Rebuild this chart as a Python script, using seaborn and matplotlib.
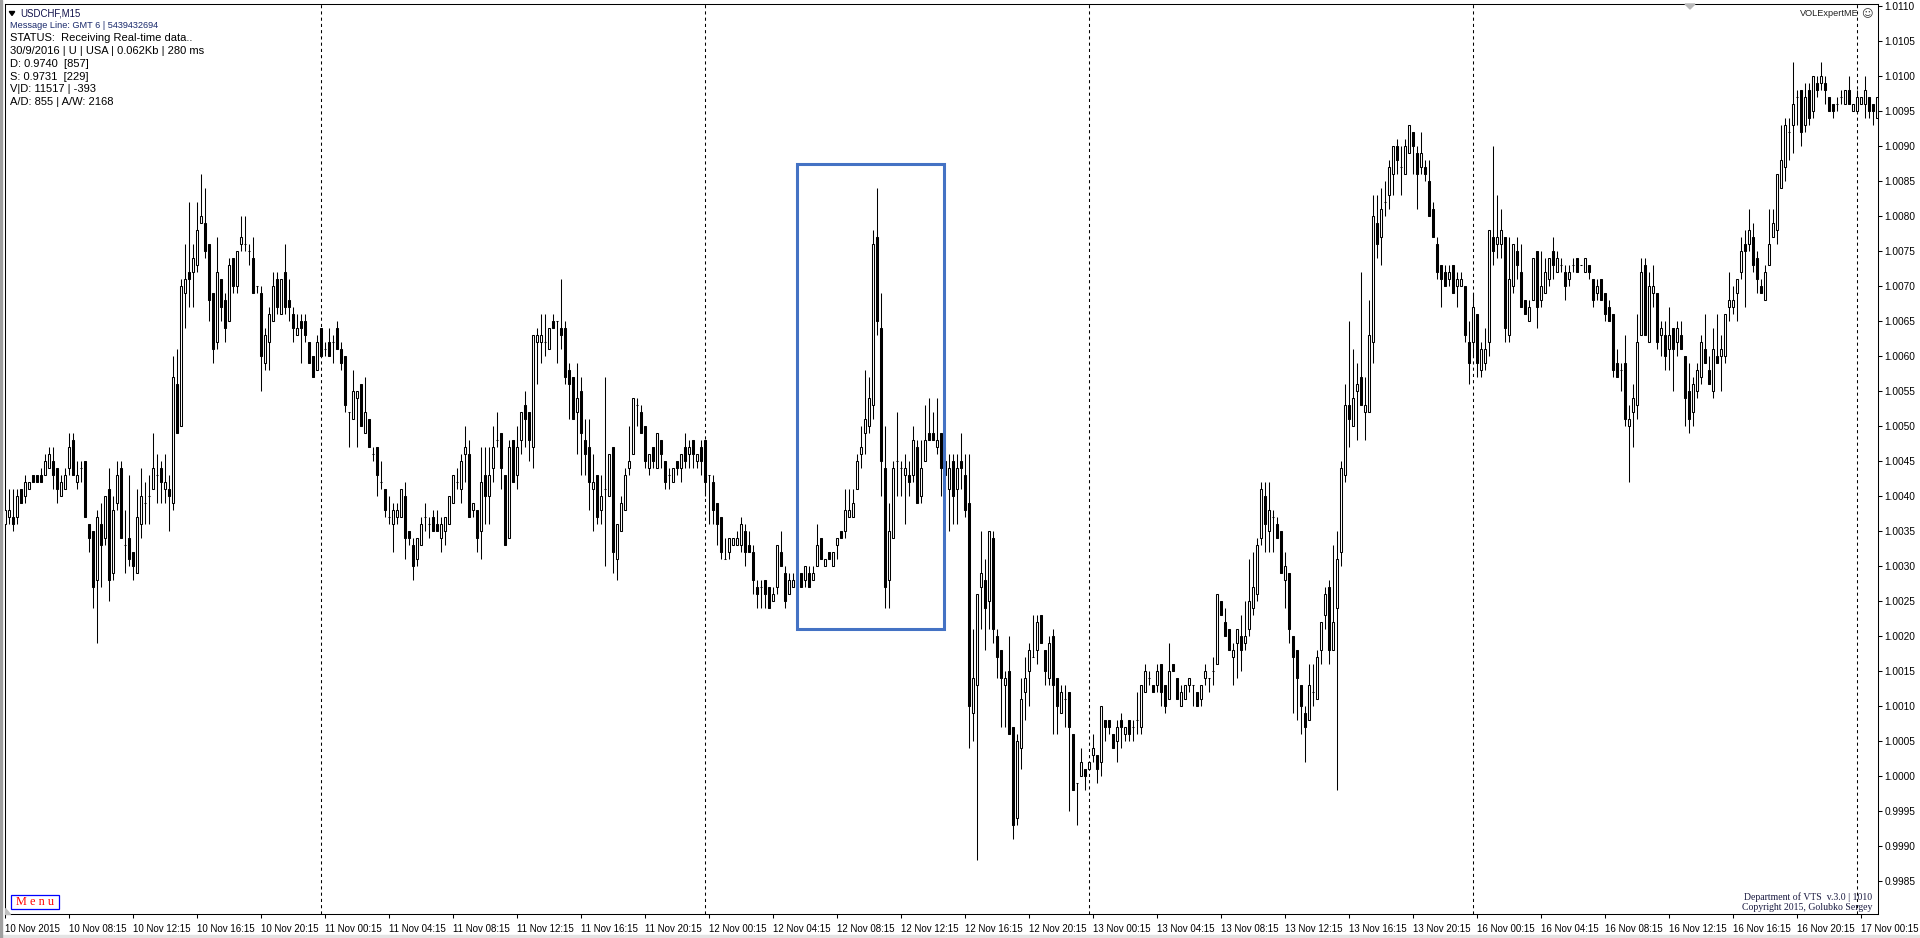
import numpy as np
import pandas as pd
import seaborn as sns
import matplotlib.pyplot as plt
from matplotlib.patches import Rectangle, Polygon

W, H = 1920, 938

# USDCHF M15 candles, pips above 0.9900 -> (open, high, low, close)
nov10 = [
    (136,138,136,138), (137,141,136,138), (137,141,135,136), (137,141,136,140), (141,141,139,139),
    (140,143,139,142), (141,142,141,142), (143,143,142,142), (143,143,142,142), (143,144,142,142),
    (143,146,143,145), (144,147,144,146), (145,147,141,143), (144,144,139,141), (140,143,140,142),
    (141,144,141,143), (144,149,143,147), (148,149,143,143), (142,145,141,143), (144,145,142,144),
    (145,145,137,137), (136,136,132,134), (135,135,124,127), (128,138,119,137), (136,139,127,133),
    (134,140,133,140), (141,144,125,128), (129,140,128,138), (139,145,138,143), (144,145,134,134),
    (133,138,129,133), (134,143,130,131), (132,132,128,130), (129,141,129,137), (136,144,134,140),
    (139,142,136,139), (140,143,136,140), (141,149,141,144), (143,146,139,143), (144,145,139,142),
    (141,146,139,142), (141,143,135,140), (139,160,138,157), (156,161,149,149), (150,171,150,170),
    (169,176,164,171), (172,182,167,171), (172,176,167,174), (173,182,172,178), (179,186,179,180),
    (179,184,174,175), (176,176,165,168), (169,169,159,161), (162,177,161,172), (171,171,165,167),
    (168,169,162,164), (165,174,165,173), (174,174,169,170), (170,175,169,175), (176,180,175,177),
    (176,180,175,176), (175,176,173,175), (174,177,169,169), (170,170,169,170), (169,170,155,160),
    (159,164,158,163), (162,167,158,166), (165,172,165,170), (171,172,166,167), (166,171,166,171),
    (172,176,166,167), (168,171,165,167), (166,167,162,164), (163,166,163,164), (165,166,159,164),
    (165,166,162,163), (162,162,159,159), (160,160,157,157), (158,163,158,162),
]
nov11 = [
    (164,164,160,160), (161,162,160,161), (162,164,160,160), (162,163,159,162), (164,165,161,161),
    (161,162,158,159), (160,160,152,153), (152,152,147,152), (151,158,151,155), (154,155,147,155),
    (156,156,150,150), (149,157,149,152), (151,151,147,147), (146,147,145,146), (147,147,140,143),
    (142,145,141,142), (141,141,137,138), (137,140,136,137), (136,139,132,138), (137,139,136,138),
    (137,141,137,141), (140,142,131,134), (135,135,133,134), (133,134,128,130), (131,134,130,134),
    (133,137,133,136), (137,139,135,137), (136,137,134,136), (137,138,135,135), (136,138,135,135),
    (134,137,132,136), (135,137,133,137), (136,140,136,140), (139,143,139,143), (142,144,141,142),
    (141,146,139,145), (146,150,142,147), (146,148,137,137), (138,139,137,139), (138,138,132,134),
    (135,147,131,142), (143,147,136,140), (140,147,136,143), (144,150,142,147), (148,152,147,148),
    (149,149,141,144), (143,143,133,133), (134,148,134,147), (148,148,142,142), (143,150,141,147),
    (148,152,146,152), (153,155,147,151), (152,152,145,148), (147,163,144,163), (162,164,156,163),
    (162,166,159,163), (162,166,160,162), (161,164,161,164), (165,166,164,164), (165,165,159,165),
    (164,171,161,163), (164,165,156,157), (158,159,151,156), (157,157,151,151), (152,159,146,154),
    (155,157,143,149), (148,151,143,146), (147,151,138,142), (141,146,135,142), (143,143,136,137),
    (138,143,136,140), (141,157,130,141), (140,146,140,146), (147,147,129,132), (131,136,128,136),
    (135,140,135,139), (138,144,138,143), (144,150,143,145), (146,154,146,154), (153,154,150,153),
    (152,153,149,149), (150,150,144,145), (144,146,143,146), (147,147,144,145), (144,149,144,149),
    (148,148,144,146), (145,145,141,142), (143,144,141,143), (142,144,142,144), (145,145,143,144),
    (144,146,142,146), (147,149,144,145), (146,148,144,147), (148,148,144,146), (145,146,144,146),
    (147,148,143,145),
]
nov12 = [
    (148,148,140,142), (143,143,136,143), (142,143,136,138), (139,139,133,136), (137,137,131,132),
    (131,134,131,131), (132,134,131,134), (133,134,133,134), (133,135,133,134), (133,137,132,136),
    (135,136,130,132), (133,135,132,132), (132,133,126,128), (127,128,124,126), (127,128,124,127),
    (128,128,124,126), (127,127,124,124), (125,127,125,126), (127,133,126,133), (132,135,130,130),
    (129,130,124,125), (126,129,126,128), (127,129,127,128), (127,129,126,128), (129,129,127,127),
    (128,130,127,130), (129,130,127,127), (128,130,128,129), (130,136,130,133), (134,134,131,131),
    (130,131,130,131), (132,132,131,131), (130,132,130,132), (133,134,131,134), (135,135,134,134),
    (135,141,134,138), (137,141,137,138), (137,141,137,139), (141,146,141,145), (146,150,144,147),
    (149,158,146,151), (150,157,149,154), (153,178,151,176), (177,184,163,165), (164,169,140,145),
    (144,150,124,127), (128,139,124,135), (134,145,134,144), (145,152,140,145), (144,145,140,144),
    (143,146,136,144), (143,145,140,142), (143,150,142,148), (147,148,139,139), (140,148,139,144),
    (145,153,145,148), (149,154,148,148), (149,152,148,148), (147,154,146,148), (149,149,140,144),
    (145,147,141,143), (141,146,135,144), (145,146,136,140), (141,146,136,144), (145,149,141,144),
    (143,146,137,138), (139,146,104,110), (109,121,105,114), (113,126,88,126), (127,135,121,129),
    (128,131,118,124), (125,135,121,135), (134,135,119,121), (120,121,114,117), (118,118,107,114),
    (113,115,107,114), (115,120,106,106), (107,107,91,93), (94,106,93,105), (104,114,101,111),
    (112,117,108,114), (115,119,110,118), (117,123,117,117), (118,123,116,122), (123,123,119,119),
    (118,118,113,115), (114,120,113,119), (120,121,106,113), (114,114,106,110), (109,113,109,112),
    (111,113,107,111), (112,112,95,107), (106,106,98,98), (99,99,93,99), (100,104,100,102),
    (101,101,98,100),
]
nov13 = [
    (101,102,101,102), (103,106,102,104), (103,103,99,101), (102,110,100,110), (108,108,105,107),
    (108,108,106,107), (106,106,104,104), (105,108,102,107), (108,109,104,107), (106,107,105,107),
    (108,108,105,106), (107,108,105,107), (108,112,106,108), (107,113,106,113), (112,116,112,115),
    (114,115,113,114), (113,113,112,112), (113,116,112,115), (116,116,110,112), (113,113,109,110),
    (111,119,111,115), (116,116,115,115), (114,114,111,111), (110,113,110,112), (111,113,111,113),
    (113,114,112,114), (113,113,110,113), (112,112,110,110), (111,113,110,113), (114,116,113,115),
    (114,114,112,114), (115,117,113,115), (116,126,116,126), (125,125,123,123), (122,124,120,120),
    (121,121,118,118), (117,119,113,118), (119,121,114,121), (120,123,115,118), (119,125,118,120),
    (121,131,120,125), (124,132,123,127), (126,134,125,133), (134,142,133,141), (140,142,132,136),
    (135,142,132,138), (137,138,132,137), (136,137,134,134), (135,135,129,129), (128,132,124,130),
    (129,129,119,121), (120,120,109,117), (118,118,108,114), (113,113,106,110), (109,110,102,107),
    (108,116,108,113), (112,116,110,112), (111,118,111,117), (118,122,116,122), (123,127,121,126),
    (127,128,116,118), (118,133,118,122), (124,135,98,131), (132,145,130,144), (143,156,142,153),
    (153,165,147,151), (150,161,150,154), (155,159,148,156), (157,172,153,153), (152,157,148,153),
    (152,168,152,163), (162,183,159,180), (179,183,174,176), (177,184,173,181), (182,185,180,182),
    (183,188,181,187), (186,190,183,190), (190,191,186,188), (187,190,183,187), (186,191,186,190),
    (189,193,189,193), (192,192,186,190), (189,190,181,186), (187,192,186,189), (187,188,185,186),
    (185,188,180,180), (181,182,177,177), (176,177,171,172), (173,173,167,171), (172,173,170,170),
    (171,173,170,172), (173,173,169,169), (170,172,167,171), (170,172,170,171), (170,170,162,163),
    (162,165,156,159),
]
nov16 = [
    (162,169,160,167), (166,166,157,159), (158,162,157,161), (159,164,158,161), (162,178,160,178),
    (177,190,173,175), (176,183,174,177), (176,181,174,178), (177,177,162,164), (163,177,162,171),
    (170,176,169,176), (175,177,171,173), (172,176,167,167), (168,168,166,166), (165,168,165,167),
    (168,174,168,174), (175,175,164,167), (168,175,167,170), (169,174,169,172), (171,174,170,174),
    (175,177,171,173), (172,175,172,174), (173,174,172,173), (172,173,168,170), (171,173,170,172),
    (173,174,172,173), (174,174,172,172), (173,173,173,173), (172,174,172,174), (173,173,171,172),
    (171,171,167,168), (169,171,168,170), (171,171,168,168), (169,169,165,166), (167,168,165,165),
    (166,166,157,158), (159,161,157,157), (158,159,155,158), (159,163,150,151), (150,153,142,151),
    (152,156,147,154), (153,166,151,162), (163,174,163,172), (173,174,163,163), (162,172,162,170),
    (169,173,167,170), (169,169,161,162), (163,165,160,164), (163,165,158,160), (161,167,158,163),
    (164,164,155,161), (162,165,160,164), (163,165,161,161), (160,160,150,154), (155,159,149,151),
    (152,157,150,156), (155,159,154,158), (157,163,156,162), (161,166,159,159), (158,160,156,156),
    (155,164,154,161), (160,166,159,159), (160,163,155,161), (160,166,159,166), (167,172,165,168),
    (167,170,166,168), (169,171,165,171), (172,177,171,175), (176,178,167,175), (176,181,175,178),
    (177,179,172,173), (174,175,169,171), (170,171,169,169), (168,173,168,172), (173,181,173,176),
    (177,181,177,179), (178,186,176,186), (184,193,184,188), (187,194,185,193), (192,194,188,192),
    (193,202,189,196), (197,198,193,197), (198,198,190,192), (193,199,192,197), (198,199,193,194),
    (195,200,194,200), (199,200,197,198), (199,202,198,200), (199,200,196,198), (197,197,195,195),
    (196,196,194,195), (196,197,195,196), (197,198,196,197), (196,198,196,198), (198,200,196,196),
    (195,196,195,196),
]
nov17 = [
    (195,198,195,197), (196,197,196,197), (196,200,194,198), (197,197,194,195), (196,196,193,195),
    (194,197,194,197),
]

tick_labels = [
    "10 Nov 2015", "10 Nov 08:15", "10 Nov 12:15", "10 Nov 16:15", "10 Nov 20:15",
    "11 Nov 00:15", "11 Nov 04:15", "11 Nov 08:15", "11 Nov 12:15", "11 Nov 16:15", "11 Nov 20:15",
    "12 Nov 00:15", "12 Nov 04:15", "12 Nov 08:15", "12 Nov 12:15", "12 Nov 16:15", "12 Nov 20:15",
    "13 Nov 00:15", "13 Nov 04:15", "13 Nov 08:15", "13 Nov 12:15", "13 Nov 16:15", "13 Nov 20:15",
    "16 Nov 00:15", "16 Nov 04:15", "16 Nov 08:15", "16 Nov 12:15", "16 Nov 16:15", "16 Nov 20:15",
    "17 Nov 00:15",
]
day_starts = [80, 176, 272, 368, 464]      # bar index of 00:00 each day
box_bars = (199.0, 235.7)                  # highlighted zone
box_prices = (1.00210, 1.00874)

info_lines = [
    "STATUS:  Receiving Real-time data..",
    "30/9/2016 | U | USA | 0.062Kb | 280 ms",
    "D: 0.9740  [857]",
    "S: 0.9731  [229]",
    "V|D: 11517 | -393",
    "A/D: 855 | A/W: 2168",
]

# ---- build frame
df = pd.DataFrame(nov10 + nov11 + nov12 + nov13 + nov16 + nov17,
                  columns=["open", "high", "low", "close"])
df = 0.99 + df / 10000.0
df["high"] = df[["open", "high", "close"]].max(axis=1)
df["low"] = df[["open", "low", "close"]].min(axis=1)
df["bar"] = np.arange(1, len(df) + 1)
df["up"] = df["close"] >= df["open"]

sns.set_theme(style="white")
plt.rcParams["font.family"] = ["Liberation Sans", "DejaVu Sans"]

fig = plt.figure(figsize=(W / 100, H / 100), dpi=100)
fig.patch.set_facecolor("white")
ax = fig.add_axes([4.5 / W, 1 - 914 / H, (1878 - 4.5) / W, 910 / H])
ax.set_facecolor("white")

# period separators
for d in day_starts:
    ax.axvline(d, color="black", lw=0.75, ls=(0, (3, 3)), zorder=1)

# wicks and bodies
ax.vlines(df["bar"], df["low"], df["high"], color="black", lw=0.75, zorder=2)
ax.bar(df["bar"], (df["close"] - df["open"]).abs(),
       bottom=df[["open", "close"]].min(axis=1), width=0.55,
       color=np.where(df["up"], "white", "black"), edgecolor="black",
       linewidth=0.75, zorder=3)

ax.add_patch(Rectangle((box_bars[0], box_prices[0]), box_bars[1] - box_bars[0],
                       box_prices[1] - box_prices[0], fill=False,
                       edgecolor="#4472C4", lw=2.2, zorder=4))

ax.set_xlim(0.8, 469.175)
ax.set_ylim(0.9980286, 1.0110286)

ax.set_xticks(np.arange(1, 1 + 16 * len(tick_labels), 16))
ax.set_xticklabels(tick_labels, ha="left", fontsize=7, color="black")
yt = np.round(np.arange(0.9985, 1.01101, 0.0005), 4)
ax.yaxis.tick_right()
ax.set_yticks(yt)
ax.set_yticklabels([f"{v:.4f}" for v in yt], fontsize=7.3, color="black")
ax.tick_params(axis="x", direction="out", length=3, width=0.75, pad=4.5, colors="black", bottom=True)
ax.tick_params(axis="y", direction="out", length=3, width=0.75, pad=1.5, colors="black", right=True, left=False)
ax.grid(False)
for s in ax.spines.values():
    s.set_color("black")
    s.set_linewidth(0.75)


def px(x, y):
    return x / W, 1 - y / H


# top-left info block
fig.add_artist(Polygon([px(9.3, 11.5), px(14.7, 11.5), px(12, 15.5)], closed=True,
                       color="black", transform=fig.transFigure))
fig.text(*px(20, 13.3), "USDCHF,M15", fontsize=6.9, color="#10104a", va="center")
fig.text(*px(10, 25.7), "Message Line: GMT 6 | 5439432694", fontsize=6.6, color="#1a2a6c", va="center")
for i, line in enumerate(info_lines):
    fig.text(*px(10, 38.3 + 12.8 * i), line, fontsize=8, color="black", va="center")

# top-right label
fig.text(*px(1859, 14), "VOLExpertME", fontsize=6.6, color="#222222", va="center", ha="right")
fig.text(*px(1867, 14), "\u263A", fontsize=8, color="#333333", va="center", ha="center",
         family="DejaVu Sans")
fig.add_artist(Polygon([px(1685, 4), px(1695, 4), px(1690, 9)], closed=True,
                       color="#b8b8b8", transform=fig.transFigure))

# bottom-right credits
fig.text(*px(1808, 896.7), "Department of VTS  v.3.0 | 1010", fontsize=7, color="#1a1a40",
         va="center", ha="center", family="Liberation Serif")
fig.text(*px(1807.5, 907.7), "Copyright 2015, Golubko Sergey", fontsize=7, color="#1a1a40",
         va="center", ha="center", family="Liberation Serif")

# Menu button
x0, y0 = px(10.7, 909)
fig.add_artist(Rectangle((x0, y0), 48.6 / W, 14 / H, facecolor="white", edgecolor="#0000ff",
                         lw=0.9, transform=fig.transFigure))
fig.text(*px(35, 902), "M e n u", fontsize=8.8, color="#ff0000", va="center", ha="center",
         family="Liberation Serif")
fig.add_artist(Polygon([px(4.7, 908), px(4.7, 914), px(10, 914)], closed=True,
                       color="#c0c0c0", transform=fig.transFigure))

# window frame bits
fig.add_artist(Rectangle((0, 0), 1, 3 / H, color="#e4e4e4", transform=fig.transFigure))
fig.add_artist(Rectangle((0, 0), 1.5 / W, 1, color="#a0a0a0", transform=fig.transFigure))

fig.savefig("out.png", dpi=100)
